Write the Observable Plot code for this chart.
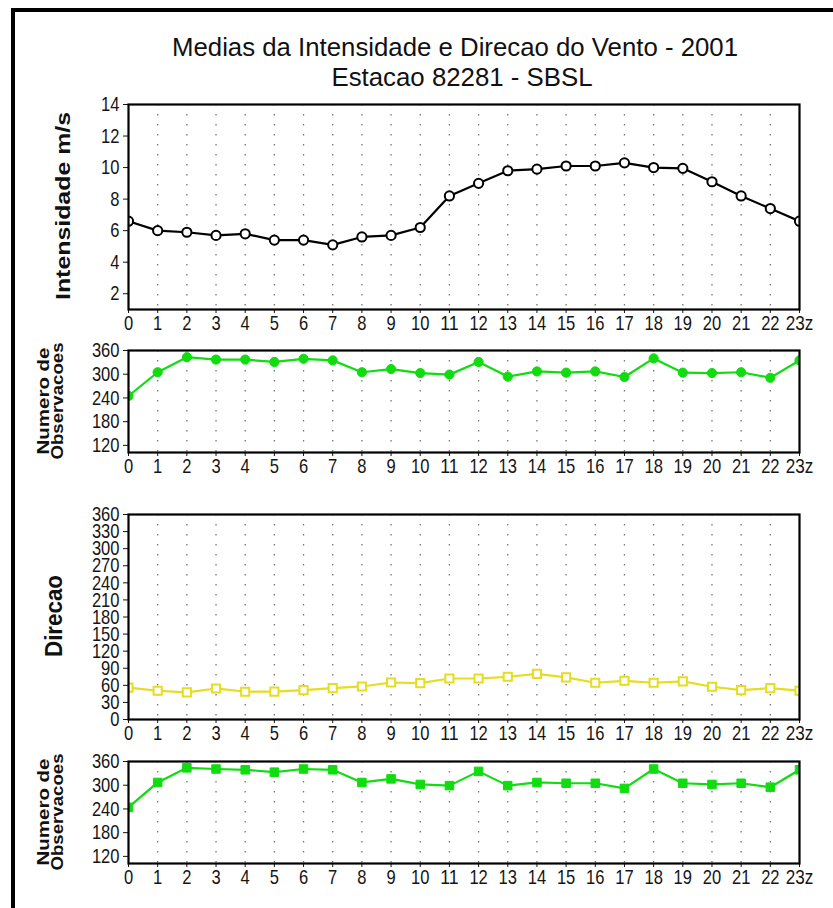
<!DOCTYPE html>
<html><head><meta charset="utf-8">
<script src="https://cdn.jsdelivr.net/npm/d3@7"></script>
<script src="https://cdn.jsdelivr.net/npm/@observablehq/plot@0.6"></script>
<style>
body{margin:0;background:#fff;}
#wrap{position:relative;width:833px;height:908px;overflow:hidden;background:#fff;}
.panel{position:absolute;left:0;}
#border{position:absolute;left:11px;top:8px;width:900px;height:960px;border-left:4px solid #000;border-top:4px solid #000;}
#labels{position:absolute;left:0;top:0;}
</style></head><body>
<div id="wrap">
<div id="border"></div>
<svg id="labels" width="833" height="908">
  <g font-family="'Liberation Sans',Arial,sans-serif" fill="#111" font-size="26">
    <text x="455" y="56" text-anchor="middle" textLength="566" lengthAdjust="spacingAndGlyphs">Medias da Intensidade e Direcao do Vento - 2001</text>
    <text x="462" y="86" text-anchor="middle" textLength="261" lengthAdjust="spacingAndGlyphs">Estacao 82281 - SBSL</text>
  </g>
  <g font-family="'Liberation Sans',Arial,sans-serif" fill="#111" font-weight="bold">
    <text transform="translate(70,206) rotate(-90)" text-anchor="middle" font-size="21" textLength="188" lengthAdjust="spacingAndGlyphs">Intensidade  m/s</text>
    <text transform="translate(49,401) rotate(-90)" text-anchor="middle" font-size="17" textLength="107" lengthAdjust="spacingAndGlyphs">Numero de</text>
    <text transform="translate(63,401) rotate(-90)" text-anchor="middle" font-size="17" textLength="117" lengthAdjust="spacingAndGlyphs">Observacoes</text>
    <text transform="translate(62,616) rotate(-90)" text-anchor="middle" font-size="23" textLength="82" lengthAdjust="spacingAndGlyphs">Direcao</text>
    <text transform="translate(49,812) rotate(-90)" text-anchor="middle" font-size="17" textLength="107" lengthAdjust="spacingAndGlyphs">Numero de</text>
    <text transform="translate(63,812) rotate(-90)" text-anchor="middle" font-size="17" textLength="117" lengthAdjust="spacingAndGlyphs">Observacoes</text>
  </g>
</svg>
</div>
<script>
// ---- data ----
const hours = [0,1,2,3,4,5,6,7,8,9,10,11,12,13,14,15,16,17,18,19,20,21,22,23];
const hourLabels = ["0","1","2","3","4","5","6","7","8","9","10","11","12","13","14","15","16","17","18","19","20","21","22","23z"];
const intensidade = [6.6,6.0,5.9,5.7,5.8,5.4,5.4,5.1,5.6,5.7,6.2,8.2,9.0,9.8,9.9,10.1,10.1,10.3,10.0,9.95,9.1,8.2,7.4,6.6];
const obsIntensidade = [245,305,343,337,337,331,339,335,305,313,303,299,331,294,307,304,307,293,340,304,303,305,291,335];
const direcao = [56,50.5,47.5,54.5,48.7,49,51.6,55,58,65,64,72,72,75,80,74,64.5,68,64.5,67,57.5,51.7,55,50.5];
const obsDirecao = [244,307,344,341,339,333,341,339,307,316,302,299,335,299,307,305,305,292,341,305,302,305,295,339];
const intensTicks = [2,4,6,8,10,12,14];
const obsTicks = [120,180,240,300,360];
const dirTicks = [0,30,60,90,120,150,180,210,240,270,300,330,360];

const green = "#10dc10";
const yellow = "#e6dc20";
const tickFont = "'Liberation Sans',Arial,sans-serif";
const MT = 14;

function narrow(chart, perChar) {
  d3.select(chart).selectAll("g[aria-label$='tick label'] text").each(function() {
    const n = this.textContent.length;
    this.setAttribute("textLength", n * perChar);
    this.setAttribute("lengthAdjust", "spacingAndGlyphs");
  });
}

function panel({top, frameH, values, yDomain, yTicks, lineColor, dotOpts}) {
  const data = hours.map((h, i) => ({h, v: values[i]}));
  const chart = Plot.plot({
    width: 833,
    height: MT + frameH + 34,
    marginTop: MT, marginBottom: 34, marginLeft: 128, marginRight: 34,
    style: {fontFamily: tickFont, fontSize: "21px", color: "#151515", background: "transparent"},
    x: {domain: [0, 23]},
    y: {domain: yDomain},
    marks: [
      Plot.gridX(hours.slice(1, 23), {stroke: "#777", strokeOpacity: 1, strokeWidth: 1.3, strokeDasharray: "1.5,8.5"}),
      Plot.axisX(hours, {tickSize: 4, tickPadding: 2, tickFormat: d => hourLabels[hours.indexOf(d)], label: null, fontSize: 21}),
      Plot.axisY(yTicks, {tickSize: 5, tickPadding: 4, label: null, fontSize: 21}),
      Plot.line(data, {x: "h", y: "v", stroke: lineColor, strokeWidth: 2.2, clip: true}),
      Plot.dot(data, {x: "h", y: "v", clip: true, ...dotOpts}),
      Plot.frame({stroke: "#000", strokeWidth: 2.2})
    ]
  });
  narrow(chart, 9.2);
  chart.classList.add("panel");
  chart.style.top = (top - MT) + "px";
  document.getElementById("wrap").appendChild(chart);
}

panel({top: 104, frameH: 205, values: intensidade, yDomain: [1, 14], yTicks: intensTicks,
  lineColor: "#000", dotOpts: {r: 4.6, fill: "#fff", stroke: "#000", strokeWidth: 2}});
panel({top: 350, frameH: 102, values: obsIntensidade, yDomain: [102, 360], yTicks: obsTicks,
  lineColor: green, dotOpts: {r: 4.6, fill: green, stroke: green, strokeWidth: 1}});
panel({top: 514, frameH: 205, values: direcao, yDomain: [0, 360], yTicks: dirTicks,
  lineColor: yellow, dotOpts: {r: 4.6, symbol: "square", fill: "#fff", stroke: yellow, strokeWidth: 2}});
panel({top: 761, frameH: 102, values: obsDirecao, yDomain: [102, 360], yTicks: obsTicks,
  lineColor: green, dotOpts: {r: 4.8, symbol: "square", fill: green, stroke: green, strokeWidth: 1}});
</script>
</body></html>
